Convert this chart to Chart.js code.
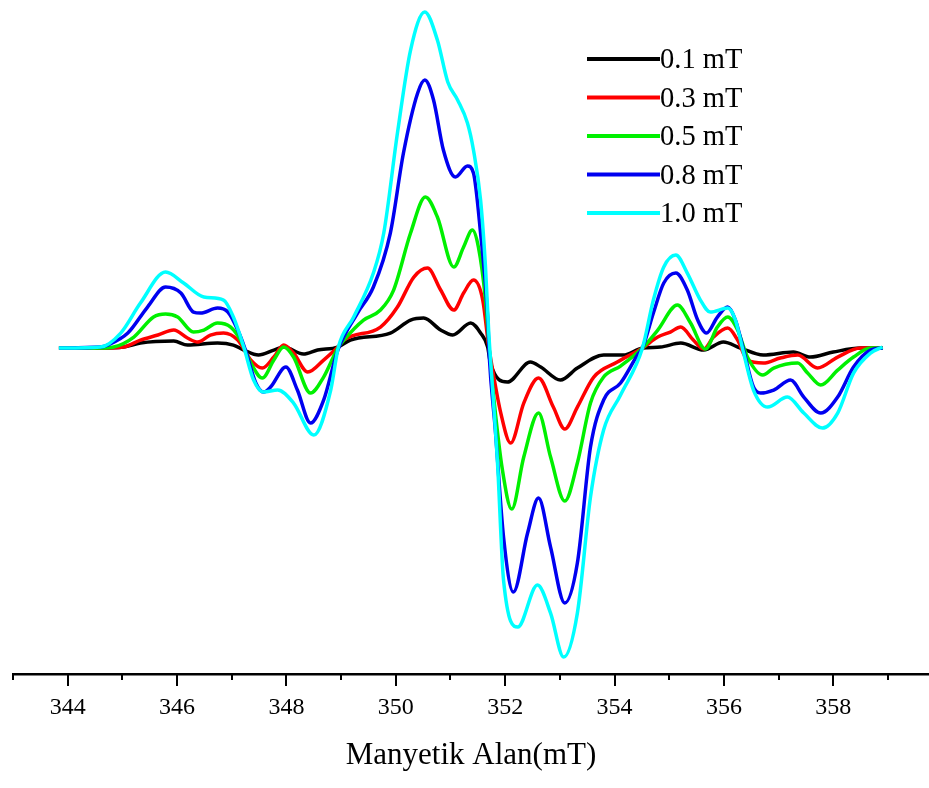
<!DOCTYPE html>
<html>
<head>
<meta charset="utf-8">
<script src="https://cdn.jsdelivr.net/npm/chart.js@4.4.0/dist/chart.umd.min.js"></script>
<style>
  html, body { margin: 0; padding: 0; background: #fff; }
</style>
</head>
<body>
<canvas id="epr" width="929" height="788"></canvas>
<script>
// magnetic field (mT) and first-derivative EPR signal (a.u.) for each modulation amplitude
const fieldBlack = [343.84, 344.60, 345.02, 345.33, 345.94, 346.19, 346.74, 347.03, 347.22, 347.49, 347.77, 347.95, 348.31, 348.57, 348.94, 349.17, 349.90, 350.27, 350.51, 350.82, 351.04, 351.37, 351.55, 351.68, 351.73, 352.04, 352.46, 352.65, 353.01, 353.32, 353.80, 354.16, 354.51, 354.84, 355.21, 355.63, 355.99, 356.30, 356.72, 357.27, 357.58, 358.00, 358.50, 358.90];
const signalBlack = [0, 0, 1, 5, 7, 3, 5, 3, -2, -7, -2, 1, -6, -2, 1, 8, 15, 28, 30, 18, 13, 25, 15, 1, -15, -34, -14, -19, -32, -20, -7, -7, 0, 1, 5, -2, 6, 0, -7, -4, -9, -4, 0, 0];

const fieldRed = [343.84, 344.60, 345.02, 345.33, 345.65, 345.94, 346.19, 346.38, 346.61, 346.85, 347.11, 347.35, 347.56, 347.77, 347.95, 348.13, 348.39, 348.68, 348.94, 349.05, 349.72, 350.03, 350.33, 350.58, 350.82, 351.06, 351.24, 351.42, 351.59, 351.70, 351.73, 351.92, 352.10, 352.34, 352.61, 352.88, 353.09, 353.32, 353.62, 354.05, 354.51, 354.79, 355.02, 355.21, 355.44, 355.63, 355.81, 356.07, 356.25, 356.43, 356.72, 357.03, 357.35, 357.71, 358.08, 358.50, 358.90];
const signalRed = [0, 0, 1, 8, 13, 18, 10, 6, 13, 15, 8, -12, -20, -9, 3, -5, -24, -12, 1, 8, 21, 41, 71, 80, 58, 38, 55, 68, 48, 1, -9, -65, -95, -55, -30, -59, -81, -59, -29, -14, 0, 11, 16, 21, 8, -1, 11, 20, 8, -12, -15, -10, -7, -20, -9, 0, 0];

const fieldGreen = [343.84, 344.60, 344.84, 345.21, 345.57, 345.79, 346.01, 346.30, 346.49, 346.74, 346.98, 347.16, 347.35, 347.56, 347.77, 347.95, 348.13, 348.44, 348.68, 348.94, 349.05, 349.41, 349.72, 349.96, 350.27, 350.54, 350.76, 351.06, 351.24, 351.40, 351.51, 351.64, 351.71, 351.79, 351.95, 352.12, 352.34, 352.61, 352.83, 353.09, 353.32, 353.56, 353.80, 354.11, 354.51, 354.79, 355.15, 355.39, 355.66, 355.88, 356.07, 356.25, 356.43, 356.71, 356.91, 357.35, 357.53, 357.77, 358.08, 358.37, 358.68, 358.90];
const signalGreen = [0, 0, 1, 11, 31, 34, 31, 16, 18, 25, 21, 8, -15, -30, -12, 1, -9, -45, -29, 0, 8, 28, 38, 58, 115, 151, 131, 81, 101, 118, 101, 48, -2, -49, -122, -161, -109, -65, -109, -153, -115, -55, -29, -18, 0, 18, 43, 25, -1, 21, 31, 18, -9, -27, -20, -15, -25, -37, -22, -9, 0, 0];

const fieldBlue = [343.84, 344.60, 344.73, 345.10, 345.46, 345.79, 346.07, 346.30, 346.43, 346.74, 346.93, 347.11, 347.25, 347.44, 347.58, 347.71, 347.99, 348.20, 348.44, 348.68, 348.94, 349.30, 349.59, 349.90, 350.14, 350.40, 350.53, 350.69, 350.87, 351.09, 351.31, 351.42, 351.55, 351.68, 351.71, 351.82, 351.97, 352.15, 352.41, 352.61, 352.83, 353.09, 353.32, 353.56, 353.80, 354.11, 354.42, 354.51, 354.71, 354.90, 355.12, 355.33, 355.52, 355.68, 355.88, 356.07, 356.21, 356.36, 356.54, 356.67, 356.91, 357.22, 357.46, 357.77, 358.08, 358.37, 358.68, 358.90];
const signalBlue = [0, 1, 3, 15, 41, 61, 55, 36, 35, 40, 36, 18, -2, -35, -44, -39, -19, -42, -75, -52, -2, 35, 61, 115, 195, 255, 268, 248, 198, 171, 182, 175, 115, 31, -9, -82, -189, -244, -185, -150, -199, -255, -215, -99, -52, -35, -7, 0, 35, 65, 75, 58, 28, 15, 31, 41, 28, -2, -39, -45, -42, -32, -49, -65, -49, -19, -2, 0];

const fieldCyan = [343.84, 344.60, 344.97, 345.33, 345.79, 346.12, 346.49, 346.85, 347.03, 347.22, 347.40, 347.58, 347.84, 348.13, 348.50, 348.81, 348.95, 349.23, 349.59, 349.78, 350.03, 350.27, 350.53, 350.76, 350.95, 351.13, 351.31, 351.42, 351.55, 351.64, 351.70, 351.73, 351.86, 351.97, 352.23, 352.59, 352.83, 353.07, 353.32, 353.56, 353.80, 354.11, 354.51, 354.71, 354.90, 355.12, 355.33, 355.57, 355.75, 356.07, 356.21, 356.36, 356.54, 356.80, 357.16, 357.46, 357.80, 358.08, 358.37, 358.68, 358.90];
const signalCyan = [0, 1, 15, 45, 76, 65, 51, 48, 31, 1, -32, -44, -42, -55, -87, -42, 1, 31, 75, 115, 215, 298, 336, 308, 266, 248, 225, 198, 148, 81, 15, -10, -115, -232, -279, -237, -265, -309, -265, -149, -82, -47, 0, 48, 81, 93, 75, 48, 36, 40, 28, -5, -42, -59, -49, -65, -80, -65, -25, -5, 1];

const seriesLabels = ["0.1 mT", "0.3 mT", "0.5 mT", "0.8 mT", "1.0 mT"];
const majorTicks = [344, 346, 348, 350, 352, 354, 356, 358];
const minorTicks = [343, 345, 347, 349, 351, 353, 355, 357, 359];

const serif = '"Liberation Serif", "Times New Roman", serif';

const toPoints = (xs, ys) => xs.map((x, i) => ({ x: x, y: ys[i] }));

const makeSeries = (label, xs, ys, color, order) => ({
    label: label,
    data: toPoints(xs, ys),
    borderColor: color,
    backgroundColor: color,
    borderWidth: 3.5,
    pointRadius: 0,
    cubicInterpolationMode: "monotone",
    order: order,
});

// short minor ticks, long major ticks under the axis line
const axisTicks = {
    id: "axisTicks",
    afterDraw(chart) {
        const sc = chart.scales.x;
        const ctx = chart.ctx;
        ctx.save();
        ctx.strokeStyle = "#000";
        ctx.lineWidth = 2;
        const mark = (v, len) => {
            const px = Math.round(sc.getPixelForValue(v));
            ctx.beginPath();
            ctx.moveTo(px, sc.top);
            ctx.lineTo(px, sc.top + len);
            ctx.stroke();
        };
        majorTicks.forEach((v) => mark(v, 12));
        minorTicks.forEach((v) => mark(v, 6));
        ctx.restore();
    },
};

// legend drawn as Origin does it: line sample then label
const lineLegend = {
    id: "lineLegend",
    afterDraw(chart) {
        const ctx = chart.ctx;
        ctx.save();
        ctx.font = "28.5px " + serif;
        ctx.textBaseline = "middle";
        chart.data.datasets.forEach((ds, i) => {
            const y = 59 + i * 38.5;
            ctx.strokeStyle = ds.borderColor;
            ctx.lineWidth = 4;
            ctx.beginPath();
            ctx.moveTo(587, y);
            ctx.lineTo(660, y);
            ctx.stroke();
            ctx.fillStyle = "#000";
            ctx.fillText(ds.label, 660, y + 2);
        });
        ctx.restore();
    },
};

new Chart(document.getElementById("epr"), {
    type: "line",
    data: {
        datasets: [
            makeSeries(seriesLabels[0], fieldBlack, signalBlack, "#000000", 4),
            makeSeries(seriesLabels[1], fieldRed, signalRed, "#ff0000", 3),
            makeSeries(seriesLabels[2], fieldGreen, signalGreen, "#00f000", 2),
            makeSeries(seriesLabels[3], fieldBlue, signalBlue, "#0000f0", 1),
            makeSeries(seriesLabels[4], fieldCyan, signalCyan, "#00ffff", 0),
        ],
    },
    options: {
        responsive: false,
        animation: false,
        layout: {
            padding: { left: 13, right: 0, top: 0, bottom: 14 },
        },
        plugins: {
            legend: { display: false },
            tooltip: { enabled: false },
        },
        scales: {
            x: {
                type: "linear",
                min: 343,
                max: 359.75,
                grid: { display: false, drawTicks: false },
                border: { display: true, color: "#000", width: 2.5 },
                afterBuildTicks: (scale) => {
                    scale.ticks = majorTicks.map((v) => ({ value: v }));
                },
                ticks: {
                    color: "#000",
                    padding: 22,
                    maxRotation: 0,
                    autoSkip: false,
                    font: { family: serif, size: 24, lineHeight: 1 },
                },
                title: {
                    display: true,
                    text: "Manyetik Alan(mT)",
                    color: "#000",
                    font: { family: serif, size: 31, lineHeight: 0.9 },
                    padding: { top: 0, bottom: 4 },
                },
            },
            y: {
                display: false,
                min: -326,
                max: 348,
            },
        },
    },
    plugins: [axisTicks, lineLegend],
});
</script>
</body>
</html>
